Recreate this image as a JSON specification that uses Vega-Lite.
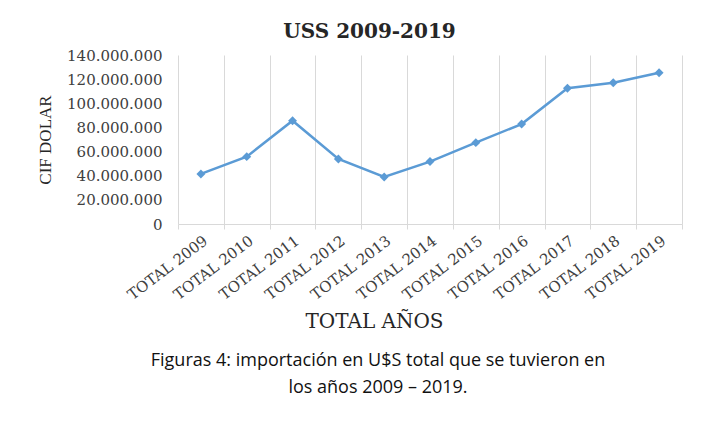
{
  "$schema": "https://vega.github.io/schema/vega-lite/v6.json",
  "padding": {"left": 36, "top": 22, "right": 5, "bottom": 5},
  "background": "white",
  "config": {
    "locale": {"number": {"decimal": ",", "thousands": ".", "grouping": [3], "currency": ["$", ""]}},
    "view": {"stroke": null}
  },
  "title": {
    "text": "USS 2009-2019",
    "font": "DejaVu Serif",
    "fontSize": 20,
    "fontWeight": "bold",
    "color": "#262626",
    "anchor": "middle",
    "frame": "bounds",
    "dx": 10,
    "offset": 6
  },
  "vconcat": [
    {
      "width": 504,
      "height": 169,
      "title": {
        "text": ["Figuras 4: importación en U$S total que se tuvieron en", "los años 2009 – 2019."],
        "orient": "bottom",
        "font": "Open Sans",
        "fontSize": 18,
        "fontWeight": "normal",
        "color": "#111111",
        "lineHeight": 27,
        "anchor": "middle",
        "frame": "group",
        "dx": -52,
        "offset": 21
      },
      "data": {
        "values": [
          {"label": "TOTAL 2009", "value": 41500000},
          {"label": "TOTAL 2010", "value": 55800000},
          {"label": "TOTAL 2011", "value": 85600000},
          {"label": "TOTAL 2012", "value": 53900000},
          {"label": "TOTAL 2013", "value": 39000000},
          {"label": "TOTAL 2014", "value": 51700000},
          {"label": "TOTAL 2015", "value": 67400000},
          {"label": "TOTAL 2016", "value": 82800000},
          {"label": "TOTAL 2017", "value": 112500000},
          {"label": "TOTAL 2018", "value": 117000000},
          {"label": "TOTAL 2019", "value": 125300000}
        ]
      },
      "encoding": {
        "x": {
          "field": "label",
          "type": "nominal",
          "sort": null,
          "scale": {"type": "band", "paddingInner": 0, "paddingOuter": 0},
          "axis": {
            "tickBand": "extent",
            "grid": true,
            "gridColor": "#d9d9d9",
            "gridWidth": 1,
            "domainColor": "#d9d9d9",
            "tickColor": "#d9d9d9",
            "tickSize": 5,
            "labelAngle": -37,
            "labelFont": "DejaVu Serif",
            "labelFontSize": 15,
            "labelColor": "#404040",
            "labelPadding": 4,
            "title": "TOTAL AÑOS",
            "titleX": 196,
            "titleFont": "DejaVu Serif",
            "titleFontSize": 20,
            "titleFontWeight": "normal",
            "titleColor": "#262626",
            "titlePadding": 9
          }
        },
        "y": {
          "field": "value",
          "type": "quantitative",
          "scale": {"domain": [0, 140000000], "nice": false},
          "axis": {
            "values": [0, 20000000, 40000000, 60000000, 80000000, 100000000, 120000000, 140000000],
            "format": ",.0f",
            "grid": false,
            "domain": false,
            "ticks": false,
            "labelPadding": 16,
            "labelFont": "DejaVu Serif",
            "labelFontSize": 15,
            "labelColor": "#404040",
            "title": "CIF DOLAR",
            "titleFont": "Liberation Serif",
            "titleFontSize": 17,
            "titleFontWeight": "normal",
            "titleColor": "#262626",
            "titlePadding": 12
          }
        }
      },
      "layer": [
        {"mark": {"type": "line", "color": "#5B9BD5", "strokeWidth": 2.5}},
        {"mark": {"type": "point", "shape": "diamond", "filled": true, "opacity": 1, "size": 80, "color": "#5B9BD5"}}
      ]
    }
  ]
}
